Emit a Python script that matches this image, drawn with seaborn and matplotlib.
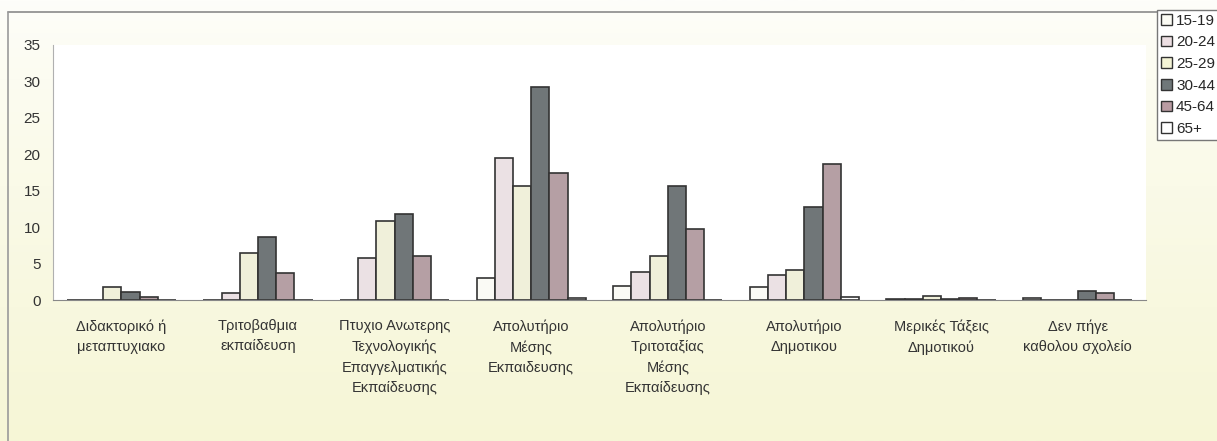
import numpy as np
import pandas as pd
import matplotlib
import matplotlib.pyplot as plt
import seaborn as sns
from matplotlib import font_manager
from matplotlib.patches import Rectangle
from matplotlib.lines import Line2D

# Categories (education level) and age groups
categories = [
    "Διδακτορικό ή\nμεταπτυχιακο",
    "Τριτοβαθμια\nεκπαίδευση",
    "Πτυχιο Ανωτερης\nΤεχνολογικής\nΕπαγγελματικής\nΕκπαίδευσης",
    "Απολυτήριο\nΜέσης\nΕκπαιδευσης",
    "Απολυτήριο\nΤριτοταξίας\nΜέσης\nΕκπαίδευσης",
    "Απολυτήριο\nΔημοτικου",
    "Μερικές Τάξεις\nΔημοτικού",
    "Δεν πήγε\nκαθολου σχολείο",
]
age_groups = ["15-19", "20-24", "25-29", "30-44", "45-64", "65+"]

# Values, one list per age group
v_15_19 = [0.0, 0.0, 0.0, 3.0, 1.9, 1.8, 0.2, 0.3]
v_20_24 = [0.0, 1.0, 5.7, 19.5, 3.8, 3.5, 0.2, 0.0]
v_25_29 = [1.8, 6.5, 10.9, 15.6, 6.1, 4.1, 0.6, 0.0]
v_30_44 = [1.1, 8.7, 11.8, 29.3, 15.6, 12.8, 0.1, 1.3]
v_45_64 = [0.4, 3.7, 6.0, 17.4, 9.7, 18.7, 0.3, 1.0]
v_65 = [0.0, 0.0, 0.0, 0.3, 0.0, 0.4, 0.0, 0.0]

y_ticks = [0, 5, 10, 15, 20, 25, 30, 35]

series = [v_15_19, v_20_24, v_25_29, v_30_44, v_45_64, v_65]
rows = []
for age, vals in zip(age_groups, series):
    for cat, v in zip(categories, vals):
        rows.append({"category": cat, "age": age, "value": v})
df = pd.DataFrame(rows)

colors = ["#fbfbf4", "#eddfe3", "#f4f4d6", "#6f7779", "#b99ba2", "#ffffff"]

sns.set_style("white")
installed = {f.name for f in font_manager.fontManager.ttflist}
main_font = "Liberation Sans Narrow" if "Liberation Sans Narrow" in installed else "Liberation Sans"
plt.rcParams["font.family"] = [main_font, "DejaVu Sans"]

W, H = 1217, 441
fig = plt.figure(figsize=(W / 100, H / 100), dpi=100)

# background gradient (white top -> pale yellow bottom)
bg = fig.add_axes([0, 0, 1, 1], zorder=-10)
grad = np.linspace(0, 1, 256).reshape(-1, 1)
top = np.array(matplotlib.colors.to_rgb("#fefefa"))
bot = np.array(matplotlib.colors.to_rgb("#f6f6d6"))
img = top + (bot - top) * grad[..., None] ** 0.8
bg.imshow(img, aspect="auto", extent=[0, 1, 0, 1], origin="upper")
bg.axis("off")

# frame lines of the scanned chart box
fig.add_artist(Line2D([8 / W, 1], [1 - 12 / H, 1 - 12 / H], color="#8a8a8a", lw=1.2))
fig.add_artist(Line2D([8 / W, 8 / W], [0, 1 - 12 / H], color="#9a9a9a", lw=1.2))

ax = fig.add_axes([53 / W, 1 - 300 / H, (1146 - 53) / W, (300 - 45) / H])
ax.set_facecolor("white")

sns.barplot(
    data=df, x="category", y="value", hue="age",
    order=categories, hue_order=age_groups, palette=colors,
    edgecolor="#333333", linewidth=1.2, width=0.8, ax=ax, legend=False,
)

ax.set_ylim(0, 35)
ax.set_xlim(-0.5, len(categories) - 0.5)
ax.set_yticks(y_ticks)
ax.set_xlabel("")
ax.set_ylabel("")
ax.tick_params(axis="y", length=0, pad=9, labelsize=11, labelcolor="#333333")
ax.tick_params(axis="x", length=0, pad=14, labelsize=10.5, labelcolor="#333333")
for lab in ax.get_xticklabels():
    lab.set_linespacing(1.55)
    lab.set_verticalalignment("top")
ax.set_xticks(np.arange(len(categories)) + 0.5, minor=True)
ax.tick_params(axis="x", which="minor", length=4, color="#999999", direction="out")
for s in ["top", "right"]:
    ax.spines[s].set_visible(False)
ax.spines["left"].set_color("#b0b0b0")
ax.spines["bottom"].set_color("#888888")

# legend box at the right (cut off by the image edge)
handles = [Rectangle((0, 0), 1, 1, facecolor=c, edgecolor="#333333", lw=1) for c in colors]
fig.legend(
    handles, age_groups, loc="upper left", bbox_to_anchor=(1157 / W, 1 - 10 / H),
    frameon=True, fancybox=False, edgecolor="#777777", framealpha=1,
    fontsize=11, handlelength=0.7, handleheight=0.7, handletextpad=0.3,
    labelspacing=0.5, borderpad=0.25, borderaxespad=0,
)

fig.savefig("out.png", dpi=100)
